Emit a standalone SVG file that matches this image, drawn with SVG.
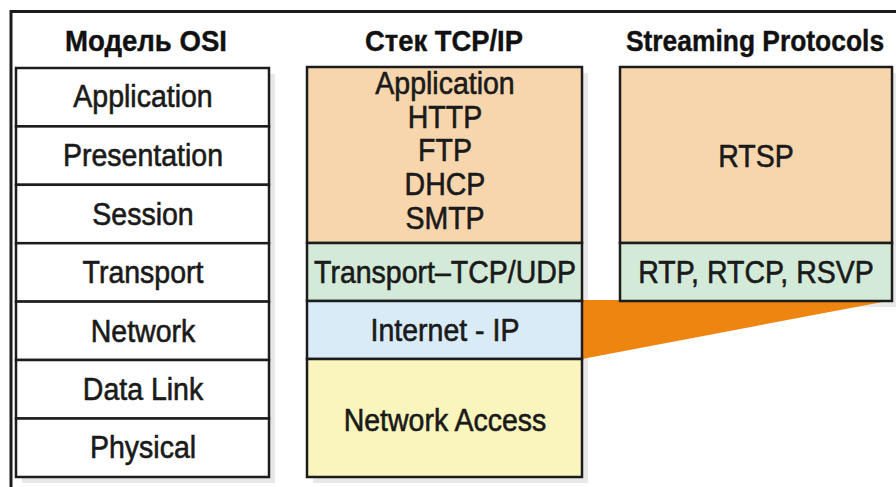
<svg xmlns="http://www.w3.org/2000/svg" width="896" height="487" viewBox="0 0 896 487">
<style>
.box{stroke:#1c1c1c;stroke-width:2.5}
.sh{fill:#e8e8e8}
.t{font-family:"Liberation Sans",Arial,sans-serif;font-size:31px;fill:#1a1a1a;stroke:#1a1a1a;stroke-width:0.6;text-anchor:middle}
.h{font-family:"Liberation Sans",Arial,sans-serif;font-size:30px;font-weight:bold;fill:#111;stroke:#111;stroke-width:0.4;text-anchor:middle}
.app{fill:#f7d6ae}
.tr{fill:#d3ead9}
.ip{fill:#d8ebf7}
.na{fill:#faf5bd}
.w{fill:#fff}
</style>
<rect width="896" height="487" fill="#fff"/>
<g id="frame">
<path d="M11 487 V11.5 H896" fill="none" stroke="#1c1c1c" stroke-width="3"/>
</g>
<g id="shadows">
<rect class="sh" x="22" y="74" width="253" height="409"/>
<rect class="sh" x="313" y="73" width="275" height="410"/>
<rect class="sh" x="626" y="73" width="270" height="234"/>
</g>
<g id="connectors">
<polygon points="582,300 893,300 582,359" fill="#ee8510"/>
</g>
<g id="titles">
<text class="h" x="146" y="51" textLength="162" lengthAdjust="spacingAndGlyphs">Модель OSI</text>
<text class="h" x="444" y="51" textLength="158" lengthAdjust="spacingAndGlyphs">Стек TCP/IP</text>
<g transform="translate(755,0) scale(0.88,1)">
<text class="h" x="0" y="51">Streaming Protocols</text>
</g>
</g>
<g id="osi">
<g id="osi-application"><rect class="box w" x="16" y="68" width="253" height="58.4"/></g>
<g id="osi-presentation"><rect class="box w" x="16" y="126.4" width="253" height="58.4"/></g>
<g id="osi-session"><rect class="box w" x="16" y="184.8" width="253" height="58.4"/></g>
<g id="osi-transport"><rect class="box w" x="16" y="243.2" width="253" height="58.4"/></g>
<g id="osi-network"><rect class="box w" x="16" y="301.6" width="253" height="58.4"/></g>
<g id="osi-datalink"><rect class="box w" x="16" y="360" width="253" height="58.5"/></g>
<g id="osi-physical"><rect class="box w" x="16" y="418.5" width="253" height="58.5"/></g>
<g transform="translate(143,0) scale(0.92,1)">
<text class="t" x="0" y="107">Application</text>
<text class="t" x="0" y="166">Presentation</text>
<text class="t" x="0" y="225">Session</text>
<text class="t" x="0" y="283">Transport</text>
<text class="t" x="0" y="342">Network</text>
<text class="t" x="0" y="400">Data Link</text>
<text class="t" x="0" y="458">Physical</text>
</g>
</g>
<g id="tcpip">
<g id="tcp-application"><rect class="box app" x="307" y="67" width="275" height="176"/></g>
<g id="tcp-transport"><rect class="box tr" x="307" y="243" width="275" height="58"/></g>
<g id="tcp-internet"><rect class="box ip" x="307" y="301" width="275" height="58"/></g>
<g id="tcp-networkaccess"><rect class="box na" x="307" y="359" width="275" height="118"/></g>
<g transform="translate(445,0) scale(0.92,1)">
<text class="t" x="0" y="94">Application</text>
<text class="t" x="0" y="128">HTTP</text>
<text class="t" x="0" y="161">FTP</text>
<text class="t" x="0" y="195">DHCP</text>
<text class="t" x="0" y="229">SMTP</text>
<text class="t" x="0" y="283">Transport–TCP/UDP</text>
<text class="t" x="0" y="341">Internet - IP</text>
<text class="t" x="0" y="431">Network Access</text>
</g>
</g>
<g id="streaming">
<g id="st-rtsp"><rect class="box app" x="620" y="67" width="272" height="176"/></g>
<g id="st-rtp"><rect class="box tr" x="620" y="243" width="272" height="58"/></g>
<g transform="translate(756,0) scale(0.92,1)">
<text class="t" x="0" y="167">RTSP</text>
<text class="t" x="0" y="283">RTP, RTCP, RSVP</text>
</g>
</g>
</svg>
